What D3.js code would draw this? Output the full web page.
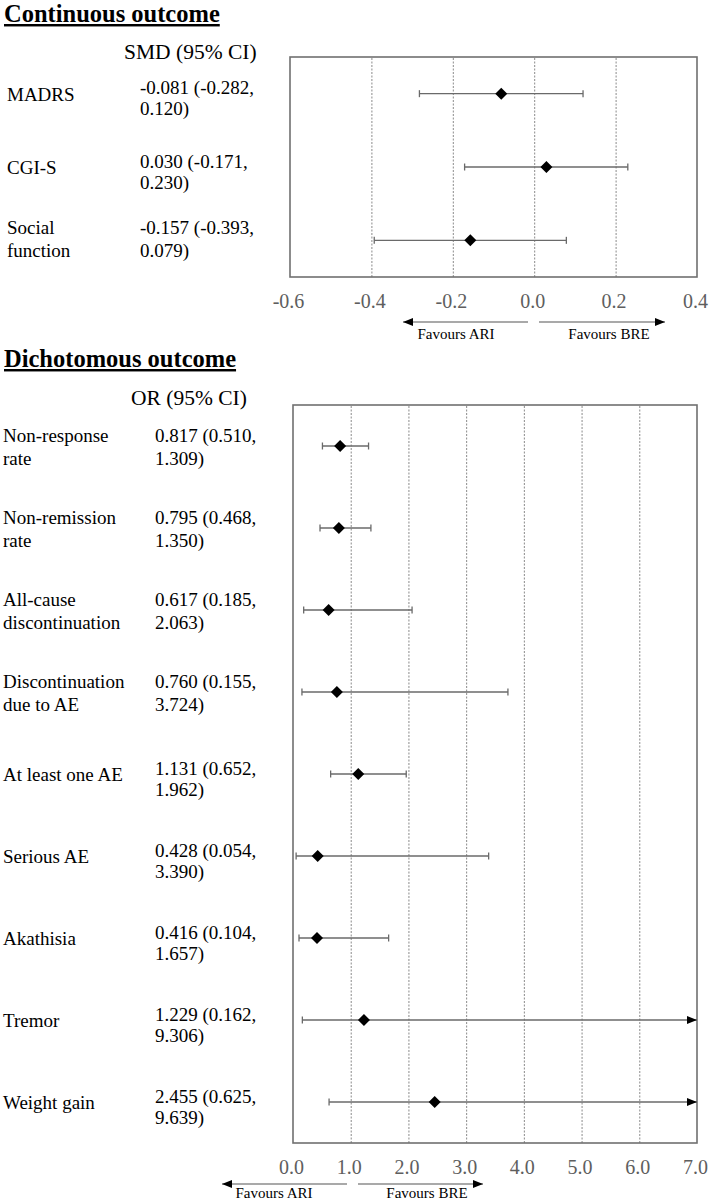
<!DOCTYPE html>
<html>
<head>
<meta charset="utf-8">
<script src="https://cdn.jsdelivr.net/npm/d3@7"></script>
<style>
  html, body { margin: 0; padding: 0; background: #fff; }
  svg { display: block; font-family: "Liberation Serif", "Times New Roman", serif; }
</style>
</head>
<body>
<svg id="chart" width="709" height="1204"></svg>
<script>
// ---------- DATA ----------
const contLabels = [["MADRS"], ["CGI-S"], ["Social", "function"]];
const contEst = [-0.081, 0.030, -0.157];
const contLo  = [-0.282, -0.171, -0.393];
const contHi  = [0.120, 0.230, 0.079];
const contTicks = [-0.6, -0.4, -0.2, 0.0, 0.2, 0.4];

const dichLabels = [["Non-response", "rate"], ["Non-remission", "rate"], ["All-cause", "discontinuation"],
  ["Discontinuation", "due to AE"], ["At least one AE"], ["Serious AE"], ["Akathisia"], ["Tremor"], ["Weight gain"]];
const dichEst = [0.817, 0.795, 0.617, 0.760, 1.131, 0.428, 0.416, 1.229, 2.455];
const dichLo  = [0.510, 0.468, 0.185, 0.155, 0.652, 0.054, 0.104, 0.162, 0.625];
const dichHi  = [1.309, 1.350, 2.063, 3.724, 1.962, 3.390, 1.657, 9.306, 9.639];
const dichTicks = [0, 1, 2, 3, 4, 5, 6, 7];

// ---------- DRAW ----------
const svg = d3.select("#chart");
const defs = svg.append("defs");
function marker(id, color, orient) {
  defs.append("marker").attr("id", id).attr("viewBox", "0 0 10 10")
    .attr("refX", 10).attr("refY", 5).attr("markerWidth", 10).attr("markerHeight", 10)
    .attr("markerUnits", "userSpaceOnUse").attr("orient", orient)
    .append("path").attr("d", "M0,1 L10,5 L0,9 Z").attr("fill", color);
}
marker("arrowEnd", "#000", "auto");

const gridColor = "#8a8a8a";
const boxColor = "#707070";
const barColor = "#6a6a6a";

function panel(opts) {
  const { title, titleY, header, headerX, headerY, labels, est, lo, hi, ticks, x0, x1, y0, y1,
          domain, labelX, valueX, arrowY, arrows, favY, favARI, favBRE, twoLineOffset } = opts;
  const x = d3.scaleLinear().domain(domain).range([x0, x1]);
  const names = labels.map(l => l.join(" "));
  const y = d3.scaleBand().domain(names).range([y0, y1]);

  // title
  svg.append("text").attr("x", 4).attr("y", titleY)
    .attr("font-size", 24.5).attr("font-weight", "bold").attr("fill", "#000")
    .attr("text-decoration", "underline").text(title);

  svg.append("text").attr("x", headerX).attr("y", headerY).attr("font-size", 21.5)
    .attr("fill", "#000").text(header);

  // gridlines
  const grid = svg.append("g").attr("transform", `translate(0,${y1})`)
    .call(d3.axisBottom(x).tickValues(ticks.slice(1, -1)).tickSize(-(y1 - y0)).tickFormat(""));
  grid.select(".domain").remove();
  grid.selectAll("line").attr("stroke", gridColor).attr("stroke-dasharray", "2,1.5").attr("stroke-width", 1);

  // box
  svg.append("rect").attr("x", x0).attr("y", y0).attr("width", x1 - x0).attr("height", y1 - y0)
    .attr("fill", "none").attr("stroke", boxColor).attr("stroke-width", 1.6);

  // tick labels
  const ax = svg.append("g").attr("transform", `translate(-2,${y1})`)
    .call(d3.axisBottom(x).tickValues(ticks).tickSize(0).tickPadding(17).tickFormat(d => d.toFixed(1)));
  ax.select(".domain").remove();
  ax.selectAll("text").attr("font-size", 20).attr("fill", "#5e5e5e")
    .attr("font-family", "Liberation Serif, serif");

  // rows
  const data = names.map((n, i) => ({ n, lines: labels[i], est: est[i], lo: lo[i], hi: hi[i] }));
  const g = svg.append("g");
  const half = y.bandwidth() / 2;
  data.forEach(d => {
    const c = y(d.n) + half;
    const hiC = Math.min(d.hi, domain[1]);
    const loC = Math.max(d.lo, domain[0]);
    const clipped = d.hi > domain[1];
    g.append("line").attr("x1", x(loC)).attr("x2", x(hiC)).attr("y1", c).attr("y2", c)
      .attr("stroke", barColor).attr("stroke-width", 1.3)
      .attr("marker-end", clipped ? "url(#arrowEnd)" : null);
    g.append("line").attr("x1", x(loC)).attr("x2", x(loC)).attr("y1", c - 3.5).attr("y2", c + 3.5)
      .attr("stroke", barColor).attr("stroke-width", 1.3);
    if (!clipped) {
      g.append("line").attr("x1", x(hiC)).attr("x2", x(hiC)).attr("y1", c - 3.5).attr("y2", c + 3.5)
        .attr("stroke", barColor).attr("stroke-width", 1.3);
    }
    const r = 6;
    g.append("path").attr("d", `M${x(d.est)},${c - r} L${x(d.est) + r},${c} L${x(d.est)},${c + r} L${x(d.est) - r},${c} Z`)
      .attr("fill", "#000");

    const two = d.lines.length > 1;
    const lb = two ? [c + twoLineOffset, c + twoLineOffset + 23] : [c + 7];
    d.lines.forEach((s, k) => {
      g.append("text").attr("x", labelX).attr("y", lb[k]).attr("font-size", 19).attr("fill", "#000").text(s);
    });
    const vb = two ? [c + twoLineOffset, c + twoLineOffset + 23] : [c + 0.5, c + 21.5];
    const v1 = `${d.est.toFixed(3)} (${d.lo.toFixed(3)},`;
    const v2 = `${d.hi.toFixed(3)})`;
    g.append("text").attr("x", valueX).attr("y", vb[0]).attr("font-size", 19).attr("fill", "#000").text(v1);
    g.append("text").attr("x", valueX).attr("y", vb[1]).attr("font-size", 19).attr("fill", "#000").text(v2);
  });

  // favour arrows
  svg.append("line").attr("x1", arrows[1]).attr("x2", arrows[0]).attr("y1", arrowY).attr("y2", arrowY)
    .attr("stroke", "#555").attr("stroke-width", 1.2).attr("marker-end", "url(#arrowEnd)");
  svg.append("line").attr("x1", arrows[2]).attr("x2", arrows[3]).attr("y1", arrowY).attr("y2", arrowY)
    .attr("stroke", "#555").attr("stroke-width", 1.2).attr("marker-end", "url(#arrowEnd)");
  svg.append("text").attr("x", favARI).attr("y", favY).attr("font-size", 15).attr("text-anchor", "middle")
    .attr("fill", "#000").text("Favours ARI");
  svg.append("text").attr("x", favBRE).attr("y", favY).attr("font-size", 15).attr("text-anchor", "middle")
    .attr("fill", "#000").text("Favours BRE");
}

panel({
  title: "Continuous outcome", titleY: 22, header: "SMD (95% CI)", headerX: 124, headerY: 59,
  labels: contLabels, est: contEst, lo: contLo, hi: contHi, ticks: contTicks,
  x0: 290, x1: 697, y0: 57, y1: 277, domain: [-0.6, 0.4], labelX: 7, valueX: 140,
  arrowY: 322, arrows: [403, 528, 539, 665], favY: 339, favARI: 456, favBRE: 609, twoLineOffset: -6
});

panel({
  title: "Dichotomous outcome", titleY: 367, header: "OR (95% CI)", headerX: 131, headerY: 405,
  labels: dichLabels, est: dichEst, lo: dichLo, hi: dichHi, ticks: dichTicks,
  x0: 293, x1: 697, y0: 405, y1: 1143, domain: [0, 7], labelX: 3, valueX: 155,
  arrowY: 1184, arrows: [222, 347, 358, 483], favY: 1198, favARI: 274, favBRE: 427, twoLineOffset: -4
});
</script>
</body>
</html>
